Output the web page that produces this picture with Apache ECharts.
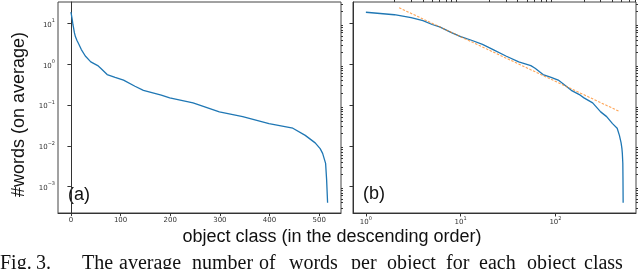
<!DOCTYPE html>
<html>
<head>
<meta charset="utf-8">
<script src="https://cdn.jsdelivr.net/npm/echarts@6/dist/echarts.min.js"></script>
<style>
html,body{margin:0;padding:0;background:#fff;}
#chart{width:640px;height:269px;}
</style>
</head>
<body>
<div id="chart"></div>
<script>
// Object class rank (1 = most frequent) and average #words per object
const ranks = [1, 2, 3, 4, 5, 6, 8, 10, 13, 17, 22, 30, 41, 55, 61, 74, 90, 107, 130, 147, 183, 200, 247, 300, 347, 400, 448, 473, 493, 503, 508, 514, 516, 518];
const avgWords = [19, 16.5, 14, 11.8, 9.5, 8.3, 6.0, 4.8, 3.9, 3.1, 2.3, 1.6, 1.15, 0.93, 0.80, 0.56, 0.48, 0.41, 0.29, 0.23, 0.175, 0.15, 0.113, 0.068, 0.052, 0.035, 0.027, 0.018, 0.0118, 0.0085, 0.0065, 0.0037, 0.0015, 0.0004];
// Power-law fit (straight line on log-log), two endpoints
const fitRanks = [2.24, 465];
const fitWords = [24.5, 0.071];
// Tick labels
const xTicksLinear = [0, 100, 200, 300, 400, 500];
const xTicksLog = [1, 10, 100];
const yTicksLog = [0.001, 0.01, 0.1, 1, 10];

function minorTicks(decades) {
  const out = [];
  decades.forEach(d => { for (let k = 2; k <= 9; k++) out.push(k * d); });
  return out;
}
const yMinor = minorTicks([0.0001, 0.001, 0.01, 0.1, 1, 10]);
const xMinor = minorTicks([1, 10, 100]);

const seriesA = ranks.map((r, i) => [r - 1, avgWords[i]]);
const seriesB = ranks.map((r, i) => [r, avgWords[i]]);
const fitLine = fitRanks.map((r, i) => [r, fitWords[i]]);

function powLabel(v) {
  const e = Math.round(Math.log10(v));
  return '{b|10}{s|' + (e < 0 ? '\u2212' + (-e) : e) + '}';
}
const tickRich = {
  b: {fontSize: 7, fontFamily: 'DejaVu Sans', color: '#333', lineHeight: 10, verticalAlign: 'bottom'},
  s: {fontSize: 5, fontFamily: 'DejaVu Sans', color: '#333', lineHeight: 10, verticalAlign: 'top'}
};

const yMin = Math.pow(10, -3.65), yMax = Math.pow(10, 1.53);
const xLogMin = Math.pow(10, -0.136), xLogMax = Math.pow(10, 2.85);
const axisColor = '#333';

const chart = echarts.init(document.getElementById('chart'), null, {renderer: 'canvas'});

const captionWords = [
  ['Fig.', 0], ['3.', 36], ['The', 82], ['average', 119], ['number', 192], ['of', 259], ['words', 289],
  ['per', 351], ['object', 387], ['for', 446], ['each', 479], ['object', 527], ['class', 584]
];

chart.setOption({
  animation: false,
  grid: [
    {left: 58, top: 2, width: 283, height: 211, show: true, borderColor: '#444', borderWidth: 1, backgroundColor: 'transparent'},
    {left: 353, top: 2, width: 283, height: 211, show: true, borderColor: '#444', borderWidth: 1, backgroundColor: 'transparent'}
  ],
  xAxis: [
    {gridIndex: 0, type: 'value', min: -26, max: 544,
      axisLine: {show: true, lineStyle: {color: axisColor}},
      axisTick: {show: true, customValues: xTicksLinear, length: 3, lineStyle: {color: axisColor}},
      axisLabel: {customValues: xTicksLinear, fontSize: 7, fontFamily: 'DejaVu Sans', color: '#333', margin: 4},
      splitLine: {show: false}},
    {gridIndex: 1, type: 'log', logBase: 10, min: xLogMin, max: xLogMax,
      axisLine: {show: true, lineStyle: {color: axisColor}},
      axisTick: {show: true, customValues: xTicksLog, length: 3.5, lineStyle: {color: axisColor}},
      axisLabel: {customValues: xTicksLog, formatter: powLabel, rich: tickRich, margin: 3},
      splitLine: {show: false}},
    {gridIndex: 1, type: 'log', logBase: 10, min: xLogMin, max: xLogMax,
      axisLine: {show: false},
      axisTick: {show: true, customValues: xMinor, length: 2, lineStyle: {color: axisColor}},
      axisLabel: {show: false}, splitLine: {show: false}}
  ],
  yAxis: [
    {gridIndex: 0, type: 'log', logBase: 10, min: yMin, max: yMax,
      axisLine: {show: true, lineStyle: {color: axisColor}},
      axisTick: {show: true, customValues: yTicksLog, length: 3.5, lineStyle: {color: axisColor}},
      axisLabel: {customValues: yTicksLog, formatter: powLabel, rich: tickRich, margin: 3},
      splitLine: {show: false}},
    {gridIndex: 0, type: 'log', logBase: 10, min: yMin, max: yMax,
      axisLine: {show: false},
      axisTick: {show: true, customValues: yMinor, length: 2, lineStyle: {color: axisColor}},
      axisLabel: {show: false}, splitLine: {show: false}},
    {gridIndex: 1, type: 'log', logBase: 10, min: yMin, max: yMax,
      axisLine: {show: true, lineStyle: {color: axisColor}},
      axisTick: {show: true, customValues: yTicksLog, length: 3.5, lineStyle: {color: axisColor}},
      axisLabel: {show: false}, splitLine: {show: false}},
    {gridIndex: 1, type: 'log', logBase: 10, min: yMin, max: yMax,
      axisLine: {show: false},
      axisTick: {show: true, customValues: yMinor, length: 2, lineStyle: {color: axisColor}},
      axisLabel: {show: false}, splitLine: {show: false}}
  ],
  series: [
    {type: 'line', xAxisIndex: 0, yAxisIndex: 0, data: seriesA, showSymbol: false,
      lineStyle: {color: '#1f77b4', width: 1.3}, itemStyle: {color: '#1f77b4'}},
    {type: 'line', xAxisIndex: 1, yAxisIndex: 2, data: seriesB, showSymbol: false,
      lineStyle: {color: '#1f77b4', width: 1.3}, itemStyle: {color: '#1f77b4'}},
    {type: 'line', xAxisIndex: 1, yAxisIndex: 2, data: fitLine, showSymbol: false,
      lineStyle: {color: '#ff7f0e', width: 1.1, type: [2.5, 1.5], opacity: 0.7}, itemStyle: {color: '#ff7f0e'}}
  ],
  graphic: [
    {type: 'text', x: 19.5, y: 114.5, rotation: Math.PI / 2,
      style: {text: '#words (on average)', font: '18px "Liberation Sans", Arial, sans-serif', fill: '#111', align: 'center', verticalAlign: 'middle'}},
    {type: 'text', x: 332, y: 237,
      style: {text: 'object class (in the descending order)', font: '18px "Liberation Sans", Arial, sans-serif', fill: '#111', align: 'center', verticalAlign: 'middle'}},
    {type: 'text', x: 79, y: 195.5,
      style: {text: '(a)', font: '18px "Liberation Sans", Arial, sans-serif', fill: '#111', align: 'center', verticalAlign: 'middle'}},
    {type: 'text', x: 374, y: 194.5,
      style: {text: '(b)', font: '18px "Liberation Sans", Arial, sans-serif', fill: '#111', align: 'center', verticalAlign: 'middle'}}
  ].concat(captionWords.map(w => ({
    type: 'text', x: w[1], y: 264,
    style: {text: w[0], font: '20px "Liberation Serif", "Times New Roman", serif', fill: '#111', align: 'left', verticalAlign: 'middle'}
  })))
});
</script>
</body>
</html>
